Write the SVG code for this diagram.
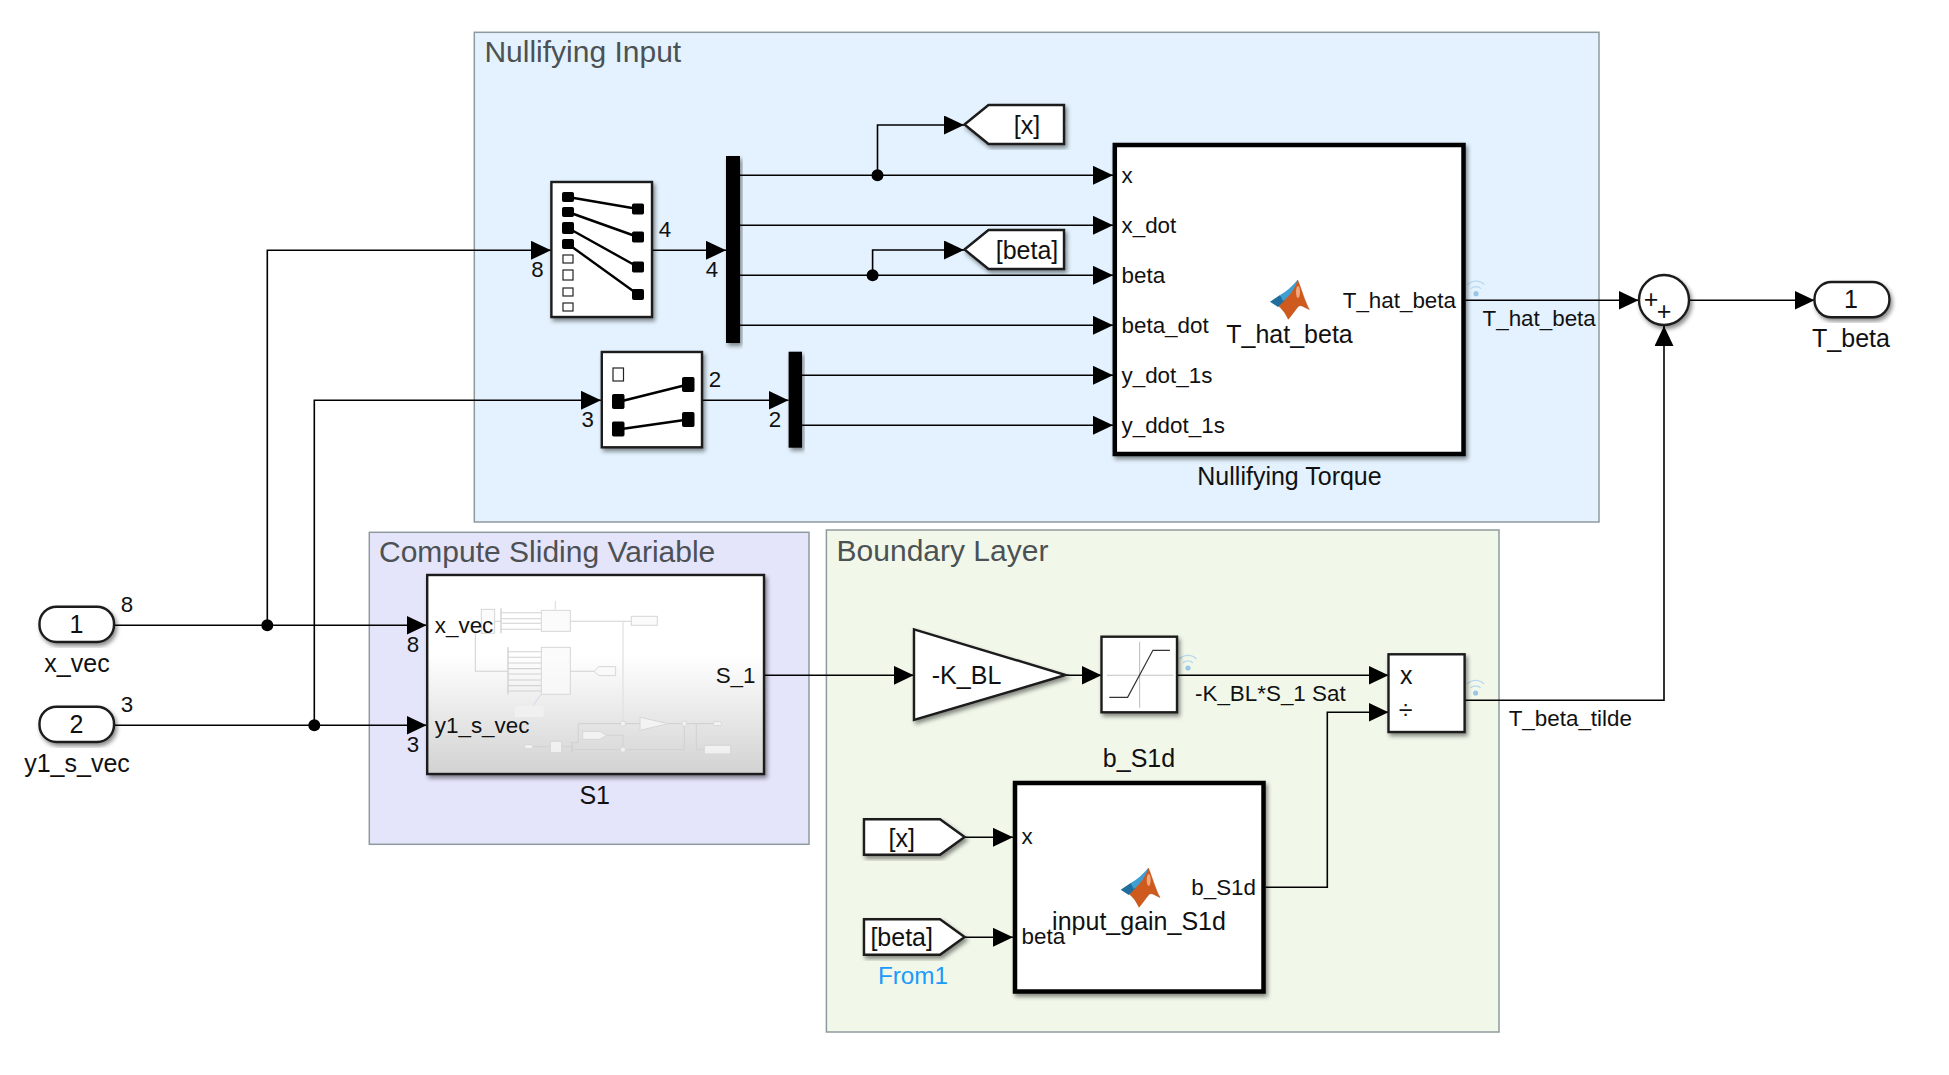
<svg xmlns="http://www.w3.org/2000/svg" xmlns:xlink="http://www.w3.org/1999/xlink" width="1949" height="1075" viewBox="0 0 1949 1075">
<style>
text{font-family:"Liberation Sans",Arial,sans-serif;fill:#111}
.t{font-size:30px;fill:#4c5154}
.n{font-size:25px}
.p{font-size:22.4px}
.d{font-size:22.3px}
.m{text-anchor:middle}
.e{text-anchor:end}
.grp{stroke:#8f9a9e;stroke-width:1.5}
.b{fill:#fff;stroke:#1a1a1a;stroke-width:2.4;filter:url(#sh)}
.hb{fill:#fff;stroke:#000;stroke-width:4.5;filter:url(#sh)}
.bar{fill:#000;filter:url(#sh)}
.c{fill:none;stroke:#000;stroke-width:1.6}
.a{marker-end:url(#arr)}
.j{fill:#000}
.on{fill:#000;stroke:#000;stroke-width:1;}
.off{fill:#fff;stroke:#222;stroke-width:1.2}
.w{fill:none;stroke:#000;stroke-width:2.4}
.th{fill:none;stroke:#d2d2d2;stroke-width:3.2}
.thb{fill:#fafafa;fill-opacity:.7;stroke:#d6d6d6;stroke-width:3}
</style>
<defs>
<filter id="sh" x="-15%" y="-15%" width="130%" height="130%"><feDropShadow dx="2" dy="3" stdDeviation="2" flood-color="#000" flood-opacity=".45"/></filter>
<marker id="arr" markerUnits="userSpaceOnUse" markerWidth="20" markerHeight="19" viewBox="0 0 20 19" refX="20" refY="9.5" orient="auto"><path d="M0,0 L20,9.5 L0,19 Z" fill="#000"/></marker>
<linearGradient id="gr" x1="0" y1="0" x2="0" y2="1"><stop offset="0" stop-color="#fff"/><stop offset=".4" stop-color="#fff"/><stop offset="1" stop-color="#d2d2d2"/></linearGradient>
<g id="wifi"><circle cx="0" cy="0" r="2.6" fill="#9cc6e6"/><path d="M-5,-5 A7,7 0 0 1 5,-5 M-8.5,-9 A12,12 0 0 1 8.5,-9" fill="none" stroke="#b9d8ee" stroke-width="1.2"/></g>
<g id="ml">
<path d="M27.7,0 C31,8 35,22 39.3,29.5 L35,27.5 C31,25 29,25 27,28 C24,32 21,36 18.3,39.3 C15,32 11,28 7.5,25 C14,22 20,14 27.7,0Z" fill="#cf5a1e" stroke="#b04a15" stroke-width=".5"/>
<path d="M0,21.7 L10,15 L15,20 L8,27 Z" fill="#1f6e9e"/>
<path d="M10,15 C16,12 22,6 27.7,0 C25,8 20,16 13,21 Z" fill="#3f9fd2"/>
<ellipse cx="28" cy="12" rx="2" ry="6" fill="#f2a77c"/>
</g>
</defs>
<rect width="1949" height="1075" fill="#fff"/>

<g id="group-nullifying"><rect class="grp" x="474.3" y="32.3" width="1124.7" height="489.7" fill="#e3f2fe"/><text class="t" x="484.4" y="61.7">Nullifying Input</text></g>
<g id="group-sliding"><rect class="grp" x="369.3" y="532.3" width="439.7" height="312" fill="#e4e4fb"/><text class="t" x="379" y="561.7">Compute Sliding Variable</text></g>
<g id="group-boundary"><rect class="grp" x="826.4" y="530" width="672.6" height="502" fill="#f1f8ea"/><text class="t" x="836.6" y="561">Boundary Layer</text></g>

<g id="connectors">
<path class="c a" d="M114,625.3 H426.5"/>
<path class="c a" d="M267.3,625.3 V250.3 H551"/>
<path class="c a" d="M114,725.3 H426.5"/>
<path class="c a" d="M314.3,725.3 V400.3 H601"/>
<path class="c a" d="M652,250.3 H726"/>
<path class="c a" d="M702,400.3 H788.5"/>
<path class="c a" d="M740,175.3 H1113"/>
<path class="c a" d="M740,225.3 H1113"/>
<path class="c a" d="M740,275.3 H1113"/>
<path class="c a" d="M740,325.3 H1113"/>
<path class="c a" d="M802,375.3 H1113"/>
<path class="c a" d="M802,425.3 H1113"/>
<path class="c a" d="M877.5,175.3 V125 H964"/>
<path class="c a" d="M872.6,275.3 V250 H964"/>
<path class="c a" d="M1465.5,300.3 H1638.5"/>
<path class="c a" d="M1689,300.3 H1814.5"/>
<path class="c a" d="M764.5,675.3 H913.7"/>
<path class="c a" d="M1065.6,675.3 H1101.5"/>
<path class="c a" d="M1177,675.3 H1388.5"/>
<path class="c a" d="M964.6,837.3 H1013"/>
<path class="c a" d="M964.6,937.3 H1013"/>
<path class="c a" d="M1265.4,887.3 H1327.3 V712.3 H1388.5"/>
<path class="c a" d="M1464.6,700.3 H1664 V326"/>
<circle class="j" cx="267.3" cy="625.3" r="6"/>
<circle class="j" cx="314.3" cy="725.3" r="6"/>
<circle class="j" cx="877.5" cy="175.3" r="6"/>
<circle class="j" cx="872.6" cy="275.3" r="6"/>
<text class="d m" x="127" y="611.7">8</text>
<text class="d m" x="127" y="711.7">3</text>
<text class="d m" x="413" y="651.7">8</text>
<text class="d m" x="413" y="751.7">3</text>
<text class="d m" x="537.5" y="276.7">8</text>
<text class="d m" x="665" y="236.7">4</text>
<text class="d m" x="712" y="276.7">4</text>
<text class="d m" x="587.7" y="426.7">3</text>
<text class="d m" x="715" y="386.7">2</text>
<text class="d m" x="775" y="426.7">2</text>
<text class="p" x="1482.5" y="326">T_hat_beta</text>
<text class="p" x="1195" y="700.7">-K_BL*S_1 Sat</text>
<text class="p" x="1508.7" y="726">T_beta_tilde</text>
<use xlink:href="#wifi" href="#wifi" x="1476" y="293.7"/>
<use xlink:href="#wifi" href="#wifi" x="1188" y="668"/>
<use xlink:href="#wifi" href="#wifi" x="1475.6" y="693"/>
</g>

<g id="inport-1"><rect class="b" x="39.5" y="606.7" width="74.5" height="35.3" rx="17"/><text class="n m" x="76.4" y="632.7">1</text><text class="n m" x="77" y="671.7">x_vec</text></g>
<g id="inport-2"><rect class="b" x="39.5" y="706.7" width="74.5" height="35.3" rx="17"/><text class="n m" x="76.4" y="732.7">2</text><text class="n m" x="77" y="771.7">y1_s_vec</text></g>

<g id="selector-1"><rect class="b" x="551.4" y="182" width="100.6" height="135"/>
<path class="w" d="M568,197 L638,209 M568,212 L638,237 M568,228 L638,267 M568,244 L638,294.5"/>
<rect class="on" x="562.5" y="192.5" width="11" height="9" rx="1"/><rect class="on" x="562.5" y="207.5" width="11" height="9" rx="1"/><rect class="on" x="562.5" y="222.5" width="11" height="11" rx="1"/><rect class="on" x="562.5" y="239.5" width="11" height="9" rx="1"/>
<rect class="off" x="563" y="255" width="10" height="8"/><rect class="off" x="563" y="270" width="10" height="10"/><rect class="off" x="563" y="288" width="10" height="8"/><rect class="off" x="563" y="303" width="10" height="8"/>
<rect class="on" x="632.5" y="204" width="11" height="10" rx="1"/><rect class="on" x="632.5" y="232" width="11" height="10" rx="1"/><rect class="on" x="632.5" y="262" width="11" height="10" rx="1"/><rect class="on" x="632.5" y="289.5" width="11" height="10" rx="1"/>
</g>
<g id="selector-2"><rect class="b" x="601.8" y="352" width="100.2" height="95.3"/>
<path class="w" d="M618,402 L688,384.5 M618,429.5 L688,419.5"/>
<rect class="off" x="613" y="368" width="10.5" height="13"/>
<rect class="on" x="612.5" y="394.5" width="11.5" height="14" rx="1"/><rect class="on" x="612.5" y="422" width="11.5" height="14" rx="1"/>
<rect class="on" x="682.5" y="377.5" width="11.5" height="14" rx="1"/><rect class="on" x="682.5" y="412.5" width="11.5" height="14" rx="1"/>
</g>
<g id="demux-1"><rect class="bar" x="726" y="156" width="14" height="187"/></g>
<g id="demux-2"><rect class="bar" x="788.6" y="351.7" width="13.4" height="96"/></g>
<g id="goto-x"><path class="b" d="M964.5,124.5 L988.5,105 H1064 V144 H988.5 Z"/><text class="n m" x="1027" y="134">[x]</text></g>
<g id="goto-beta"><path class="b" d="M964.5,249.5 L988.5,230 H1064 V269 H988.5 Z"/><text class="n m" x="1027" y="259">[beta]</text></g>

<g id="nullifying-torque"><rect class="hb" x="1114.8" y="145" width="348.7" height="309"/>
<text class="p" x="1121.5" y="182.7">x</text><text class="p" x="1121.5" y="232.7">x_dot</text><text class="p" x="1121.5" y="282.7">beta</text><text class="p" x="1121.5" y="332.7">beta_dot</text><text class="p" x="1121.5" y="382.7">y_dot_1s</text><text class="p" x="1121.5" y="432.7">y_ddot_1s</text>
<text class="p e" x="1456" y="308.3">T_hat_beta</text>
<use xlink:href="#ml" href="#ml" x="1270" y="280"/>
<text class="n m" x="1289.5" y="342.7">T_hat_beta</text>
<text class="n m" x="1289.5" y="485">Nullifying Torque</text></g>

<g id="sum"><circle class="b" cx="1664" cy="300" r="25"/><text class="n m" x="1651" y="308.3">+</text><text class="n m" x="1664" y="320.3">+</text></g>
<g id="outport-1"><rect class="b" x="1814.5" y="282" width="74.9" height="35.3" rx="17"/><text class="n m" x="1851" y="307.8">1</text><text class="n m" x="1851" y="346.7">T_beta</text></g>

<g id="s1"><rect class="b" x="427.2" y="575" width="336.8" height="199" style="fill:url(#gr)"/>
<g transform="translate(420,570) scale(.3333)">
<rect class="thb" x="184" y="118" width="40" height="72"/>
<path class="th" d="M224,154 H243 M245,128 H364 M245,146 H364 M245,160 H364 M245,178 H364 M451,154 H634 M166,190 V304 H262 M265,245 H364 M265,262 H364 M265,279 H364 M265,296 H364 M265,312 H364 M265,330 H364 M265,347 H364 M265,363 H364 M451,304 H522 M475,461 H660 M745,461 H880 M475,461 V518 H460 M339,530 H391 M425,530 H456 M460,539 H793 M560,496 H609 V539 M793,461 V539 M829,461 V539 H853"/>
<path d="M609,154 V461" fill="none" stroke="#e2e2e2" stroke-width="4"/>
<path d="M243,115 V190 M264,232 V373 M456,515 V547" fill="none" stroke="#cfcfcf" stroke-width="4"/>
<path d="M406,93 V118 M340,405 L362,375" fill="none" stroke="#d3d3f0" stroke-width="3"/>
<rect class="thb" x="364" y="121" width="87" height="63"/>
<rect class="thb" x="364" y="232" width="87" height="141"/>
<rect class="thb" x="634" y="139" width="78" height="27"/>
<path class="thb" d="M522,304 L537,290 H587 V317 H537 Z"/>
<rect x="285" y="408" width="86" height="33" fill="#f0f0f0"/>
<path class="thb" d="M660,442 L745,461 L660,481 Z"/>
<circle class="thb" cx="609" cy="461" r="8"/><circle class="thb" cx="793" cy="461" r="8"/><circle class="thb" cx="609" cy="539" r="8"/>
<rect class="thb" x="880" y="455" width="25" height="12" rx="6"/>
<rect class="thb" x="313" y="524" width="26" height="12" rx="6"/>
<rect class="thb" x="391" y="514" width="34" height="34"/>
<path class="thb" d="M488,484 H540 L560,496 L540,508 H488 Z"/>
<rect class="thb" x="853" y="526" width="79" height="26"/>
</g>
<text class="p" x="434.8" y="632.7">x_vec</text><text class="p" x="434.8" y="732.7">y1_s_vec</text><text class="p e" x="755.5" y="682.7">S_1</text>
<text class="n m" x="594.7" y="804.3">S1</text></g>

<g id="gain"><path class="b" d="M914,629.3 L1065.6,675 L914,720 Z"/><text class="n" x="931.8" y="684">-K_BL</text></g>
<g id="saturation"><rect class="b" x="1101.5" y="636.7" width="75.5" height="75.6"/>
<path d="M1107,675.3 H1173.5 M1139.6,641.7 V707.7" fill="none" stroke="#c2c2c2" stroke-width="1.1"/>
<path d="M1109.3,697.3 H1127.6 L1152.9,650.3 H1169.9" fill="none" stroke="#333" stroke-width="1.2"/></g>
<g id="product"><rect class="b" x="1388.5" y="654.3" width="76.1" height="77.7"/><text class="n" x="1400" y="684">x</text><text class="n m" x="1405.5" y="718.5">÷</text></g>
<g id="b-s1d"><rect class="hb" x="1015" y="783" width="248.5" height="208.5"/>
<text class="p" x="1021.5" y="844.3">x</text><text class="p" x="1021.5" y="944.3">beta</text><text class="p e" x="1256" y="895">b_S1d</text>
<use xlink:href="#ml" href="#ml" x="1120.7" y="868"/>
<text class="n m" x="1139" y="930">input_gain_S1d</text>
<text class="n m" x="1139" y="766.7">b_S1d</text></g>
<g id="from-x"><path class="b" d="M864,819.3 H940 L964.6,837 L940,854.7 H864 Z"/><text class="n m" x="901.7" y="847">[x]</text></g>
<g id="from-beta"><path class="b" d="M864,919.3 H940 L964.6,937 L940,954.7 H864 Z"/><text class="n m" x="901.7" y="946">[beta]</text><text class="n m" x="913" y="984.3" style="fill:#1b9bfa;font-size:24.3px">From1</text></g>
</svg>
